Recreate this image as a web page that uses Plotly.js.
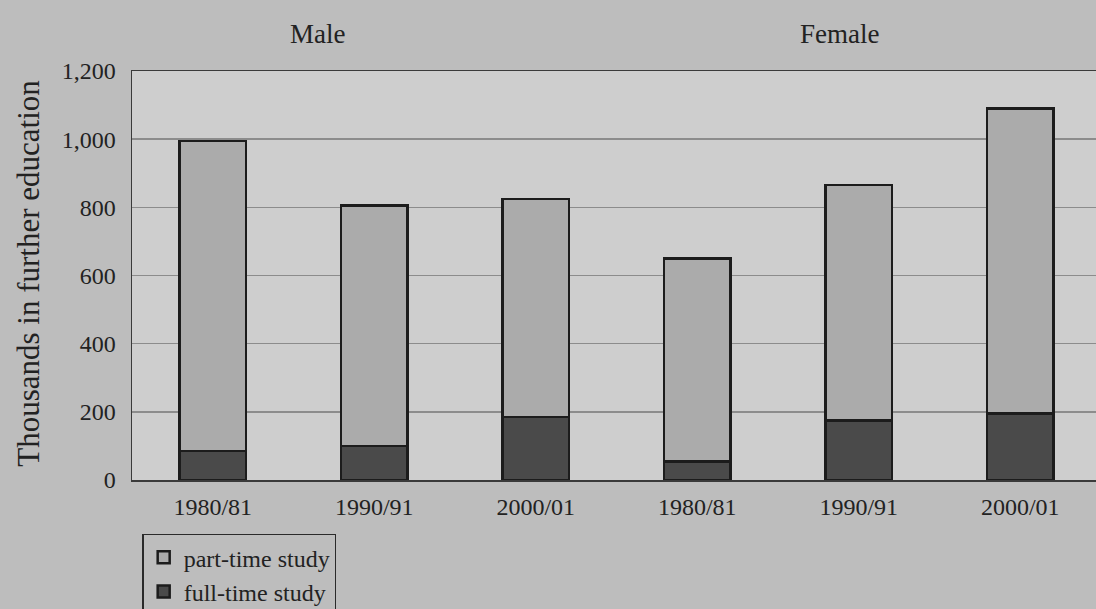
<!DOCTYPE html>
<html>
<head>
<meta charset="utf-8">
<script src="https://cdn.plot.ly/plotly-3.0.1.min.js"></script>
<style>
html,body{margin:0;padding:0;overflow:hidden;background:#bdbdbd;}
#chart{width:1101px;height:650px;}
</style>
</head>
<body>
<div id="chart"></div>
<script>
// Data (thousands in further education)
const categories = ["1980/81", "1990/91", "2000/01", "1980/81", "1990/91", "2000/01"];
const groups = ["Male", "Female"];
const fullTime = [85, 100, 185, 55, 175, 195];
const partTime = [910, 705, 640, 595, 690, 895];
const yTicks = [0, 200, 400, 600, 800, 1000, 1200];

const xPos = categories.map((c, i) => i);
const serif = "Liberation Serif, DejaVu Serif, serif";

const traces = [
  {
    type: "bar", name: "full-time study", x: xPos, y: fullTime,
    width: 0.41,
    marker: {color: "#4a4a4a", line: {color: "#1c1c1c", width: 2.5}},
    hoverinfo: "y"
  },
  {
    type: "bar", name: "part-time study", x: xPos, y: partTime,
    width: 0.41,
    marker: {color: "#ababab", line: {color: "#1c1c1c", width: 2.5}},
    hoverinfo: "y"
  }
];

const layout = {
  width: 1101, height: 650,
  margin: {l: 132, r: 0, t: 71, b: 170},
  paper_bgcolor: "#bdbdbd",
  plot_bgcolor: "#cecece",
  barmode: "stack",
  font: {family: serif, color: "#222", size: 24},
  showlegend: true,
  legend: {
    x: 0.0105, xanchor: "left", y: -0.131, yanchor: "top",
    traceorder: "reversed",
    bgcolor: "#bdbdbd", bordercolor: "#2a2a2a", borderwidth: 1.5,
    font: {family: serif, size: 24, color: "#222"},
    itemwidth: 30, tracegroupgap: 0
  },
  xaxis: {
    range: [-0.5, 5.5],
    tickmode: "array", tickvals: xPos, ticktext: categories,
    showgrid: false, zeroline: false,
    showline: true, mirror: true, linecolor: "#3a3a3a", linewidth: 1.5,
    ticks: "", ticklabelstandoff: 5,
    tickfont: {family: serif, size: 24, color: "#222"},
    fixedrange: true
  },
  yaxis: {
    range: [0, 1200],
    tickmode: "array", tickvals: yTicks, tickformat: ",",
    showgrid: true, gridcolor: "#8c8c8c", gridwidth: 1.5,
    zeroline: false,
    showline: true, linecolor: "#3a3a3a", linewidth: 1.5,
    ticks: "", ticklabelstandoff: 10,
    tickfont: {family: serif, size: 24, color: "#222"},
    fixedrange: true
  },
  annotations: [
    {text: "Thousands in further education", xref: "paper", yref: "paper",
     x: -0.107, y: 0.505, xanchor: "center", yanchor: "middle", textangle: -90,
     showarrow: false, font: {family: serif, size: 31, color: "#222"}},
    {text: groups[0], xref: "x", yref: "paper", x: 0.65, y: 1.09,
     xanchor: "center", yanchor: "middle", showarrow: false,
     font: {family: serif, size: 27, color: "#222"}},
    {text: groups[1], xref: "x", yref: "paper", x: 3.88, y: 1.09,
     xanchor: "center", yanchor: "middle", showarrow: false,
     font: {family: serif, size: 27, color: "#222"}}
  ]
};

Plotly.newPlot("chart", traces, layout, {displayModeBar: false, staticPlot: true});
</script>
</body>
</html>
